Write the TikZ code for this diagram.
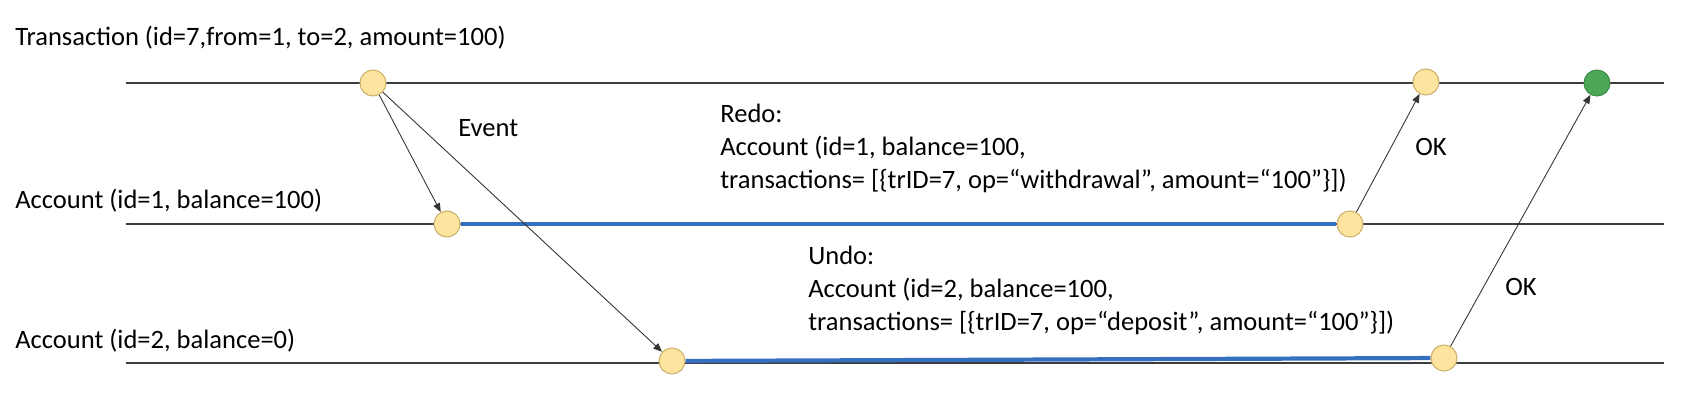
\documentclass[tikz,border=0pt]{standalone}
\usepackage{fontspec}
\setmainfont{Carlito}
\usetikzlibrary{arrows.meta}
\definecolor{evfill}{RGB}{253,229,160}
\definecolor{evdraw}{RGB}{205,175,105}
\definecolor{okfill}{RGB}{76,168,88}
\definecolor{okdraw}{RGB}{60,140,70}
\definecolor{txblue}{RGB}{52,112,190}
\definecolor{lanegray}{RGB}{60,60,60}
\begin{document}
\begin{tikzpicture}[x=0.02cm,y=-0.02cm,
	lane/.style={draw=lanegray,line width=1.1pt},
	txline/.style={draw=txblue,line width=2.4pt},
	evt/.style={circle,draw=evdraw,fill=evfill,line width=0.6pt,minimum size=0.52cm,inner sep=0pt},
	done/.style={evt,draw=okdraw,fill=okfill},
	msg/.style={draw=black!80,line width=0.5pt,-{Triangle[length=5pt,width=4pt]}},
	lbl/.style={anchor=base west,inner sep=0pt,font=\fontsize{15.1}{18.8}\selectfont},
	note/.style={lbl,align=left,anchor=north west}]
	\useasboundingbox (0,0) rectangle (1694,407);
	
	% lanes
	\coordinate (tS) at (126,83);
	\coordinate (tE) at (1664,83);
	\coordinate (aS) at (126,224);
	\coordinate (aE) at (1664,224);
	\coordinate (bS) at (126,363);
	\coordinate (bE) at (1664,363);
	\draw[lane] (tS) -- (tE);
	\draw[lane] (aS) -- (aE);
	\draw[lane] (bS) -- (bE);
	
	\node[lbl] (ttl) at (15,45) {Transaction (id=7,from=1, to=2, amount=100)};
	\node[lbl] (acc1) at (15,208) {Account (id=1, balance=100)};
	\node[lbl] (acc2) at (15,348) {Account (id=2, balance=0)};
	
	% events
	\node[evt] (t1) at (373,83) {};
	\node[evt] (t2) at (1426,82) {};
	\node[done] (t3) at (1597,83) {};
	\node[evt] (a1) at (447,224) {};
	\node[evt] (a2) at (1350,224) {};
	\node[evt] (b1) at (672,361) {};
	\node[evt] (b2) at (1444,358) {};
	
	\draw[txline] (a1) -- (a2);
	\draw[txline] (b1) -- (b2);
	
	\draw[msg] (t1) -- (a1);
	\draw[msg] (t1) -- (b1);
	\draw[msg] (a2) -- (t2);
	\draw[msg] (b2) -- (t3);
	
	\node[lbl] (ev) at (458,136) {Event};
	\node[lbl] (ok1) at (1415,155) {OK};
	\node[lbl] (ok2) at (1505,295) {OK};
	
	\node[note] (redo) at (720,104) {Redo:\\Account (id=1, balance=100,\\transactions= [\{trID=7, op=“withdrawal”, amount=“100”\}])};
	\node[note] (undo) at (808,246) {Undo:\\Account (id=2, balance=100,\\transactions= [\{trID=7, op=“deposit”, amount=“100”\}])};
\end{tikzpicture}
\end{document}
